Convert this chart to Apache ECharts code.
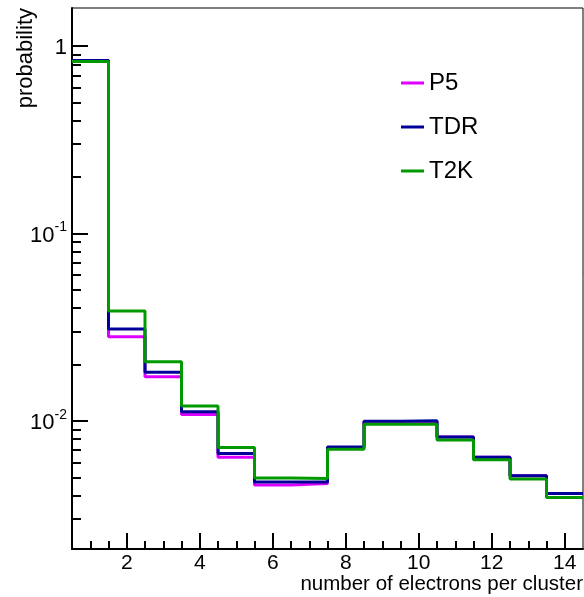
<!DOCTYPE html>
<html>
<head>
<meta charset="utf-8">
<script src="https://cdn.jsdelivr.net/npm/echarts@6/dist/echarts.min.js"></script>
<style>
  html, body { margin: 0; padding: 0; background: #fff; }
  #main { width: 584px; height: 597px; }
</style>
</head>
<body>
<div id="main"></div>
<script>
// bins: number of electrons per cluster (1..14), bin width 1
var bins = [1, 2, 3, 4, 5, 6, 7, 8, 9, 10, 11, 12, 13, 14];
var p5  = [0.84, 0.0281, 0.0172, 0.0108, 0.0064, 0.00455, 0.00463, 0.0072, 0.0099, 0.0099, 0.0082, 0.0064, 0.0051, 0.0041];
var tdr = [0.84, 0.0309, 0.0182, 0.0112, 0.0067, 0.00472, 0.00472, 0.00726, 0.00995, 0.0100, 0.0082, 0.0064, 0.0051, 0.0041];
var t2k = [0.83, 0.0386, 0.0207, 0.0120, 0.0072, 0.00496, 0.00492, 0.00706, 0.0096, 0.0096, 0.0079, 0.0062, 0.0049, 0.0039];
var xLabels = [2, 4, 6, 8, 10, 12, 14];
var yLabels = [0.01, 0.1, 1];

var xMinor = [];
for (var i = 1; i <= 14; i += 0.5) xMinor.push(i);
var yMinor = [];
[0.001, 0.01, 0.1].forEach(function (d) {
    for (var k = 2; k <= 9; k++) yMinor.push(d * k);
});

// histogram outline: value held across each bin, from left edge to right edge
function steps(vals) {
    var pts = bins.map(function (b, i) { return [b - 0.5, vals[i]]; });
    pts.push([bins[bins.length - 1] + 0.5, vals[vals.length - 1]]);
    return pts;
}

var font = 'Liberation Sans, Arial, sans-serif';
var myChart = echarts.init(document.getElementById('main'));

var option = {
    animation: false,
    grid: {
        left: 72, right: 1, top: 8, bottom: 48,
        show: true, borderColor: '#000', borderWidth: 1
    },
    legend: {
        orient: 'vertical',
        left: 396, top: 66,
        itemWidth: 23, itemHeight: 3,
        itemGap: 20,
        icon: 'rect',
        textStyle: { fontFamily: font, fontSize: 24, color: '#000' },
        data: ['P5', 'TDR', 'T2K']
    },
    xAxis: [{
        type: 'value', min: 0.5, max: 14.5,
        axisLine: { lineStyle: { color: '#000', width: 2 } },
        axisTick: { inside: true, length: 16, lineStyle: { color: '#000', width: 2 }, customValues: xLabels },
        axisLabel: { customValues: xLabels, fontFamily: font, fontSize: 21, color: '#000', margin: 4 },
        splitLine: { show: false }
    }, {
        type: 'value', min: 0.5, max: 14.5, position: 'bottom',
        axisLine: { show: false },
        axisTick: { inside: true, length: 8, lineStyle: { color: '#000', width: 2 }, customValues: xMinor },
        axisLabel: { show: false },
        splitLine: { show: false }
    }],
    yAxis: [{
        type: 'log', logBase: 10, min: 0.00207, max: 1.6,
        axisLine: { show: true, lineStyle: { color: '#000', width: 2 } },
        axisTick: { inside: true, length: 16, lineStyle: { color: '#000', width: 2 }, customValues: yLabels },
        axisLabel: {
            customValues: yLabels, margin: 5,
            formatter: function (v) {
                if (Math.abs(v - 1) < 1e-9) return '{b|1}';
                var e = Math.round(Math.log10(v));
                return '{b|10}{s|' + e + '}';
            },
            rich: {
                b: { fontFamily: font, fontSize: 22, color: '#000', padding: [4, 0, 0, 0] },
                s: { fontFamily: font, fontSize: 14, color: '#000', padding: [0, 0, 12, 0] }
            }
        },
        splitLine: { show: false }
    }, {
        type: 'log', logBase: 10, min: 0.00207, max: 1.6, position: 'left',
        axisLine: { show: false },
        axisTick: { inside: true, length: 9, lineStyle: { color: '#000', width: 2 }, customValues: yMinor },
        axisLabel: { show: false },
        splitLine: { show: false }
    }],
    graphic: [{
        type: 'text', right: 1, top: 574,
        style: { text: 'number of electrons per cluster', fontFamily: font, fontSize: 20.5, fill: '#000' }
    }, {
        type: 'text', x: 26, y: 8, rotation: Math.PI / 2,
        style: { text: 'probability', fontFamily: font, fontSize: 22, fill: '#000', align: 'right', verticalAlign: 'middle' }
    }],
    series: [{
        name: 'P5', type: 'line', step: 'end', symbol: 'none',
        data: steps(p5), color: '#dd00ff',
        lineStyle: { width: 3, color: '#dd00ff' }
    }, {
        name: 'TDR', type: 'line', step: 'end', symbol: 'none',
        data: steps(tdr), color: '#000099',
        lineStyle: { width: 3, color: '#000099' }
    }, {
        name: 'T2K', type: 'line', step: 'end', symbol: 'none',
        data: steps(t2k), color: '#009900',
        lineStyle: { width: 3, color: '#009900' }
    }]
};

if (option && typeof option === "object") {
    myChart.setOption(option, true);
}
</script>
</body>
</html>
